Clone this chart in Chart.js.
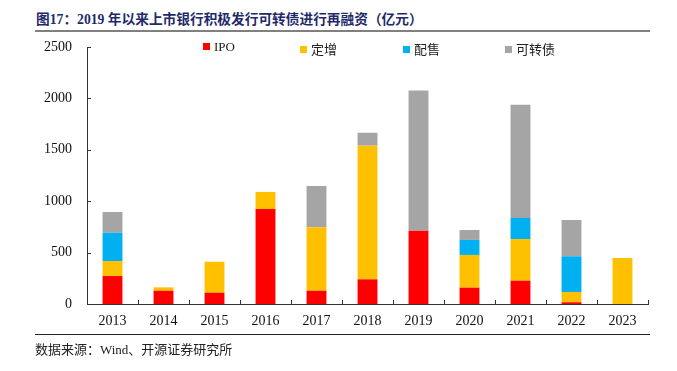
<!DOCTYPE html>
<html>
<head>
<meta charset="utf-8">
<script src="https://cdn.jsdelivr.net/npm/chart.js@4.4.1/dist/chart.umd.min.js"></script>
<style>
    body { margin: 0; background: #fff; }
    #wrap { position: relative; width: 677px; height: 371px; overflow: hidden; }
    #title {
        position: absolute; left: 36px; top: 8px;
        font: bold 13.7px "Liberation Serif", "Noto Sans CJK SC", serif;
        color: #1f2a6b; white-space: nowrap;
    }
    #titleLine { position: absolute; left: 35px; top: 30px; width: 615px; height: 2px; background: #808080; }
    #footLine { position: absolute; left: 35px; top: 334px; width: 615px; height: 1px; background: #222; }
    #source {
        position: absolute; left: 35px; top: 339px;
        font: 13px "Liberation Serif", "Noto Sans CJK SC", serif; color: #222; white-space: nowrap;
    }
    #legend { position: absolute; top: 39px; left: 0; height: 18px; }
    #legend span.item {
        position: absolute; white-space: nowrap;
        font: 13px "Liberation Serif", "Noto Sans CJK SC", serif; color: #222;
    }
    #legend i { display: inline-block; width: 7px; height: 7px; margin-right: 4px; vertical-align: 1px; }
    canvas { position: absolute; left: 0; top: 0; }
</style>
</head>
<body>
<div id="wrap">
    <div id="title">图17：2019 年以来上市银行积极发行可转债进行再融资（亿元）</div>
    <div id="titleLine"></div>
    <canvas id="chart" width="677" height="371"></canvas>
    <div id="legend"></div>
    <div id="footLine"></div>
    <div id="source">数据来源：Wind、开源证券研究所</div>
</div>
<script>
const years = ["2013", "2014", "2015", "2016", "2017", "2018", "2019", "2020", "2021", "2022", "2023"];
const ipo = [272, 129, 110, 924, 129, 240, 713, 159, 227, 17, 0];
const dingzeng = [146, 33, 301, 166, 617, 1300, 0, 318, 405, 100, 447];
const peishou = [276, 0, 0, 0, 0, 0, 0, 146, 205, 347, 0];
const kezhuanzhai = [201, 0, 0, 0, 402, 126, 1365, 97, 1102, 353, 0];
const yTicks = [0, 500, 1000, 1500, 2000, 2500];

const seriesNames = ["IPO", "定增", "配售", "可转债"];
const seriesColors = ["#ff0000", "#ffc000", "#00b0f0", "#a5a5a5"];
const seriesData = [ipo, dingzeng, peishou, kezhuanzhai];
const legendX = [203, 300, 403, 505];

const datasets = seriesNames.map((name, i) => ({
    label: name,
    data: seriesData[i],
    backgroundColor: seriesColors[i],
    borderWidth: 0,
    barPercentage: 0.39,
    categoryPercentage: 1
}));

// legend
const legend = document.getElementById("legend");
seriesNames.forEach((name, i) => {
    const item = document.createElement("span");
    item.className = "item";
    item.style.left = legendX[i] + "px";
    item.innerHTML = `<i style="background:${seriesColors[i]}"></i>${name}`;
    legend.appendChild(item);
});

// tick marks pointing into the plot
const innerTicks = {
    id: "innerTicks",
    afterDraw(chart) {
        const ctx = chart.ctx;
        const x = chart.scales.x;
        const y = chart.scales.y;
        ctx.save();
        ctx.strokeStyle = "#333";
        ctx.lineWidth = 1;
        ctx.beginPath();
        yTicks.forEach(v => {
            const py = Math.round(y.getPixelForValue(v)) + 0.5;
            ctx.moveTo(x.left, py);
            ctx.lineTo(x.left + 4, py);
        });
        const step = (x.right - x.left) / years.length;
        for (let k = 1; k <= years.length; k++) {
            const px = Math.round(x.left + step * k) + 0.5;
            ctx.moveTo(px, y.bottom);
            ctx.lineTo(px, y.bottom - 4);
        }
        ctx.stroke();
        ctx.restore();
    }
};

const serif = "'Liberation Serif', 'Times New Roman', serif";

new Chart(document.getElementById("chart"), {
    type: "bar",
    data: { labels: years, datasets: datasets },
    options: {
        responsive: false,
        animation: false,
        layout: { padding: { left: 0, top: 47, right: 29, bottom: 37 } },
        plugins: { legend: { display: false }, tooltip: { enabled: false } },
        scales: {
            x: {
                stacked: true,
                grid: { display: false, drawTicks: false },
                border: { color: "#333", width: 1 },
                ticks: { color: "#111", padding: 9, font: { family: serif, size: 14 } },
                afterFit(s) { s.height = 30; }
            },
            y: {
                stacked: true,
                min: 0,
                max: 2500,
                grid: { display: false, drawTicks: false },
                border: { color: "#333", width: 1 },
                afterBuildTicks(s) { s.ticks = yTicks.map(v => ({ value: v })); },
                ticks: {
                    color: "#111", padding: 15, font: { family: serif, size: 14 },
                    callback: v => String(v)
                },
                afterFit(s) { s.width = 87; }
            }
        }
    },
    plugins: [innerTicks]
});
</script>
</body>
</html>
